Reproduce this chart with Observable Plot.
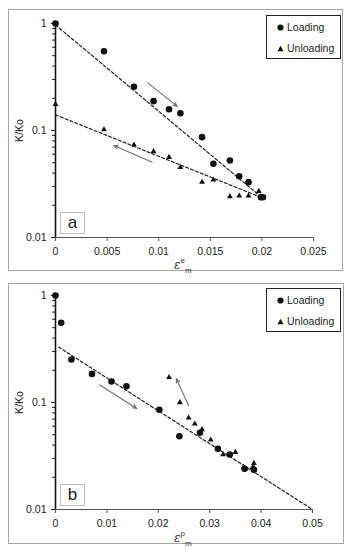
<!DOCTYPE html>
<html><head><meta charset="utf-8">
<script src="https://cdn.jsdelivr.net/npm/d3@7"></script>
<script src="https://cdn.jsdelivr.net/npm/@observablehq/plot@0.6"></script>
<style>
body{margin:0;background:#fff;}
#wrap{position:relative;width:353px;height:550px;font-family:"Liberation Sans",Arial,sans-serif;overflow:hidden;}
.frame{position:absolute;border:1px solid #a6a6a6;box-sizing:border-box;}
.panel{position:absolute;left:0;}
.legend{position:absolute;border:1px solid #222;box-sizing:border-box;background:#fff;font-size:10.5px;color:#222;}
.legend .row{position:absolute;left:10px;height:12px;line-height:12px;white-space:nowrap;}
.legend svg{vertical-align:middle;margin-right:3px;position:relative;top:-1px;}
.tag{position:absolute;border:1px solid #bfbfbf;box-sizing:border-box;font-size:17px;line-height:19px;text-align:center;color:#222;background:#fff;}
.xlab{position:absolute;color:#333;white-space:nowrap;}
.xlab .eps{font-family:"DejaVu Serif","Liberation Serif",serif;font-style:italic;font-size:12px;}
.xlab sup,.xlab sub{font-size:8px;}
</style></head><body><div id="wrap"></div>
<script>
// ---- Panel a (elastic strain) ----
const loadA_x = [0, 0.0047, 0.0076, 0.0095, 0.0110, 0.0121, 0.0142, 0.0153, 0.0169, 0.0178, 0.0187, 0.0199, 0.0201];
const loadA_y = [1, 0.55, 0.256, 0.188, 0.158, 0.145, 0.0867, 0.0489, 0.0525, 0.0374, 0.0329, 0.0238, 0.0238];
const unloadA_x = [0, 0.0047, 0.0076, 0.0095, 0.0110, 0.0121, 0.0142, 0.0153, 0.0169, 0.0178, 0.0187, 0.0197];
const unloadA_y = [0.176, 0.102, 0.0735, 0.0637, 0.0563, 0.0454, 0.0329, 0.0346, 0.0242, 0.0245, 0.0245, 0.0271];
const trendA_load_x = [0, 0.0198];
const trendA_load_y = [0.97, 0.0245];
const trendA_unload_x = [0, 0.0197];
const trendA_unload_y = [0.14, 0.0242];
const arrowA_x1 = [0.00895, 0.00937];
const arrowA_y1 = [0.279, 0.0506];
const arrowA_x2 = [0.0118, 0.00565];
const arrowA_y2 = [0.168, 0.0724];
const xTicksA = [0, 0.005, 0.01, 0.015, 0.02, 0.025];

// ---- Panel b (plastic strain) ----
const loadB_x = [0, 0.0011, 0.0031, 0.0071, 0.0109, 0.0138, 0.0202, 0.0241, 0.0281, 0.0316, 0.0339, 0.0368, 0.0386];
const loadB_y = [1, 0.556, 0.252, 0.185, 0.157, 0.142, 0.0855, 0.0484, 0.0521, 0.0369, 0.0327, 0.024, 0.0235];
const unloadB_x = [0.0221, 0.0242, 0.0259, 0.0271, 0.0285, 0.0302, 0.0326, 0.0350, 0.0366, 0.0383, 0.0386, 0.0386];
const unloadB_y = [0.172, 0.100, 0.0719, 0.0632, 0.056, 0.0448, 0.0327, 0.0343, 0.0248, 0.0245, 0.0245, 0.0271];
const trendB_x = [0.0006, 0.05];
const trendB_y = [0.33, 0.01];
const arrowB_x1 = [0.00862, 0.0259];
const arrowB_y1 = [0.146, 0.0938];
const arrowB_x2 = [0.0158, 0.0235];
const arrowB_y2 = [0.0879, 0.167];
const xTicksB = [0, 0.01, 0.02, 0.03, 0.04, 0.05];

const yMajor = [1, 0.1, 0.01];
const yMinor = [0.9, 0.8, 0.7, 0.6, 0.5, 0.4, 0.3, 0.2, 0.09, 0.08, 0.07, 0.06, 0.05, 0.04, 0.03, 0.02];
const seriesNames = ["Loading", "Unloading"];
const yLabel = "K/Ko";

const pts = (xs, ys) => xs.map((x, i) => ({x, y: ys[i]}));
const arrows = (x1, y1, x2, y2) => x1.map((v, i) => ({x1: v, y1: y1[i], x2: x2[i], y2: y2[i]}));

function panel(opt) {
  return Plot.plot({
    width: 353, height: 275,
    marginLeft: 55, marginRight: opt.mr, marginTop: opt.mt, marginBottom: opt.mb,
    style: {fontFamily: "Liberation Sans, Arial, sans-serif", fontSize: "10.5px", color: "#222", background: "transparent"},
    x: {type: "linear", domain: opt.xDomain},
    y: {type: "log", domain: [0.01, 1]},
    marks: [
      Plot.axisX(opt.xTicks, {tickSize: 4, tickPadding: 6, tickFormat: d => String(d), stroke: "#555", label: null}),
      Plot.axisY(yMajor, {tickSize: 4, tickPadding: 5, tickFormat: d => String(d), label: yLabel, labelAnchor: "center", labelOffset: 40, labelArrow: "none"}),
      Plot.axisY(yMinor, {tickSize: 3, tickFormat: () => "", label: null}),
      Plot.ruleY([0.01], {stroke: "#555", strokeWidth: 1}),
      Plot.ruleX([0], {stroke: "#111", strokeWidth: 1.6}),
      ...opt.trends.map(t => Plot.line(t, {x: "x", y: "y", stroke: "#222", strokeWidth: 1.2, strokeDasharray: "3,2.2"})),
      Plot.arrow(opt.arrows, {x1: "x1", y1: "y1", x2: "x2", y2: "y2", stroke: "#6f6f6f", strokeWidth: 1.1, headLength: 6, headAngle: 45}),
      Plot.dot(opt.unload, {x: "x", y: "y", symbol: "triangle", r: 2.2, fill: "#111", stroke: "none"}),
      Plot.dot(opt.load, {x: "x", y: "y", symbol: "circle", r: 3.3, fill: "#111", stroke: "none"})
    ]
  });
}

const wrap = document.getElementById("wrap");
function addEl(html) { const d = document.createElement("div"); d.innerHTML = html; const el = d.firstElementChild; wrap.appendChild(el); return el; }

addEl('<div class="frame" style="left:8px;top:9px;width:335px;height:262px"></div>');
addEl('<div class="frame" style="left:8px;top:283px;width:336px;height:261px"></div>');

const pa = panel({
  mr: 40, mt: 23, mb: 38, xDomain: [0, 0.025], xTicks: xTicksA,
  load: pts(loadA_x, loadA_y), unload: pts(unloadA_x, unloadA_y),
  trends: [pts(trendA_load_x, trendA_load_y), pts(trendA_unload_x, trendA_unload_y)],
  arrows: arrows(arrowA_x1, arrowA_y1, arrowA_x2, arrowA_y2)
});
pa.classList.add("panel"); pa.style.top = "0px"; wrap.appendChild(pa);

const pb = panel({
  mr: 41, mt: 20, mb: 41, xDomain: [0, 0.05], xTicks: xTicksB,
  load: pts(loadB_x, loadB_y), unload: pts(unloadB_x, unloadB_y),
  trends: [pts(trendB_x, trendB_y)],
  arrows: arrows(arrowB_x1, arrowB_y1, arrowB_x2, arrowB_y2)
});
pb.classList.add("panel"); pb.style.top = "275px"; wrap.appendChild(pb);

const circ = '<svg width="7" height="7"><circle cx="3.5" cy="3.5" r="3.1" fill="#111"/></svg>';
const tri = '<svg width="7" height="7"><path d="M3.5,0.8 L6.5,6.3 L0.5,6.3Z" fill="#111"/></svg>';
function legend(top) {
  addEl('<div class="legend" style="left:266px;top:' + top + 'px;width:75px;height:44px">' +
    '<div class="row" style="top:5px">' + circ + seriesNames[0] + '</div>' +
    '<div class="row" style="top:26px">' + tri + seriesNames[1] + '</div></div>');
}
legend(15);
legend(288);

addEl('<div class="tag" style="left:60px;top:212px;width:25px;height:22px">a</div>');
addEl('<div class="tag" style="left:60px;top:484px;width:25px;height:22px">b</div>');

addEl('<div class="xlab" style="left:174px;top:255px"><span class="eps">ε</span><sup>e</sup><sub>m</sub></div>');
addEl('<div class="xlab" style="left:174px;top:528px"><span class="eps">ε</span><sup>p</sup><sub>m</sub></div>');
</script></body></html>
